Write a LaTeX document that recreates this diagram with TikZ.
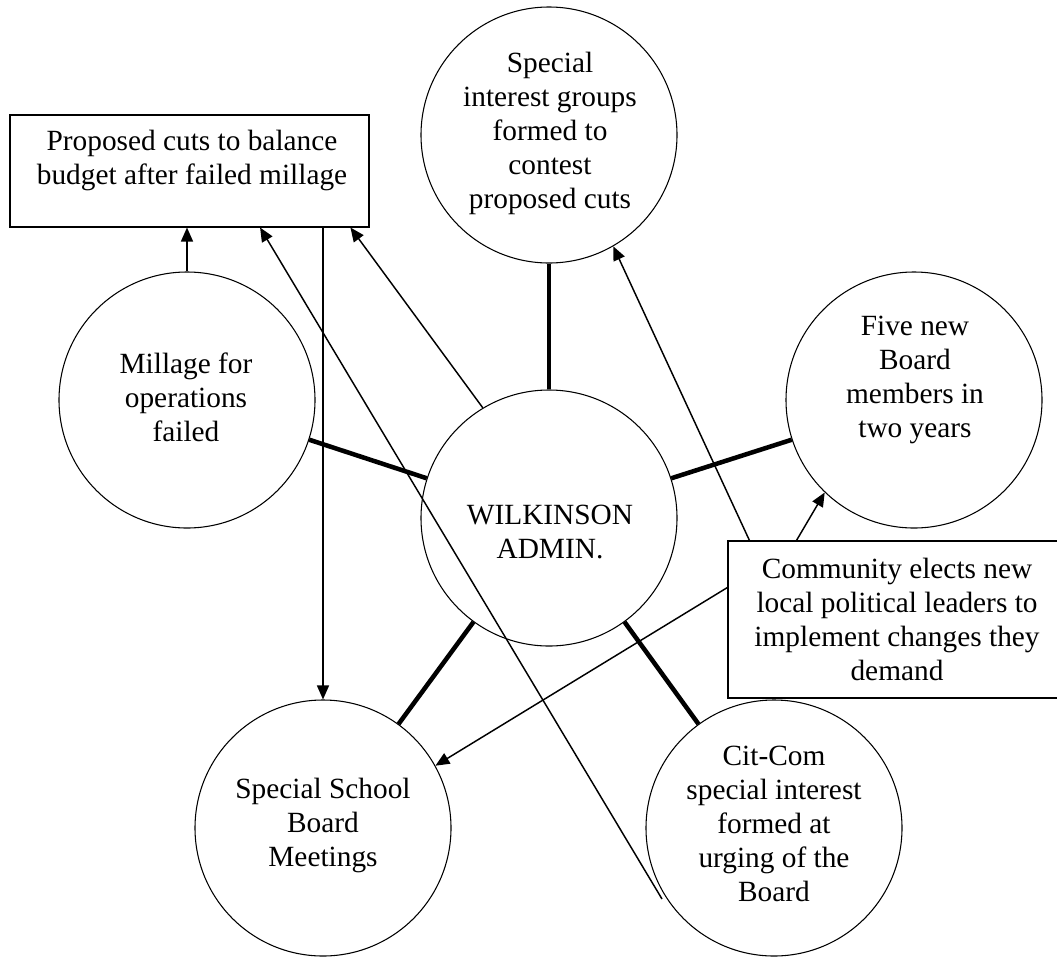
\documentclass[tikz,border=0pt]{standalone}
\usepackage{fontspec}
\setmainfont{Liberation Serif}
\usetikzlibrary{calc,arrows.meta}
\begin{document}
\begin{tikzpicture}[x=0.75pt,y=-0.75pt,
  bubble/.style={circle,draw,line width=0.8pt,minimum size=192pt,inner sep=0pt},
  panel/.style={draw,line width=0.8pt,inner sep=0pt},
  caption/.style={align=center,inner sep=0pt,font=\fontsize{22}{25.5}\selectfont},
  tie/.style={line width=3.4pt},
  link/.style={line width=1.1pt,-{Triangle[length=10.5pt,width=9pt]}}]
\fill[white] (0,0) rectangle (1057,957);
\useasboundingbox (0,0) rectangle (1057,957);

% circles
\node[bubble] (top)   at (549,135) {};
\node[bubble] (mill)  at (187,400) {};
\node[bubble] (five)  at (914,400) {};
\node[bubble] (admin) at (549,518) {};
\node[bubble] (ssbm)  at (323,828) {};
\node[bubble] (cit)   at (774,828) {};

% boxes
\node[panel,minimum width=269.25pt,minimum height=84pt] (cuts) at (189.5,171) {};
\node[panel,minimum width=250.5pt,minimum height=117.75pt] (elect) at (895,619.5) {};

% texts
\node[caption] (topT)   at (550,133) {Special\\interest groups\\formed to\\contest\\proposed cuts};
\node[caption] (cutsT)  at (192,160) {Proposed cuts to balance\\budget after failed millage};
\node[caption] (millT)  at (186,397) {Millage for\\operations\\failed};
\node[caption] (fiveT)  at (915,380) {Five new\\Board\\members in\\two years};
\node[caption] (adminT) at (550,532) {WILKINSON\\ADMIN.};
\node[caption] (electT) at (897,619) {Community elects new\\local political leaders to\\implement changes they\\demand};
\node[caption] (ssbmT)  at (323,825) {Special School\\Board\\Meetings};
\node[caption] (citT)   at (774,824) {Cit-Com\\special interest\\formed at\\urging of the\\Board};

% thick spokes
\draw[tie] (top.south) -- (admin.north);
\draw[tie] (mill.-18) -- (admin.162);
\draw[tie] (five.198) -- (admin.18);
\draw[tie] (ssbm.54) -- (admin.-126);
\draw[tie] (cit.126) -- (admin.-54);

% arrows
\draw[link] (mill.north) -- (mill.north |- cuts.south);
\draw[link] (admin.121) -- ($(cuts.south west)!0.947!(cuts.south east)$);
\coordinate (tail) at (662,899);
\draw[link] (tail) -- ($(cuts.south west)!0.696!(cuts.south east)$);
\draw[link] (ssbm.north |- cuts.south) -- (ssbm.north);
\draw[link] ($(elect.north west)+(22,0)$) -- (top.-60);
\draw[link] ($(elect.north west)+(69,0)$) -- (five.-134);
\draw[link] ($(elect.north west)+(0,47)$) -- (ssbm.29.5);
\end{tikzpicture}
\end{document}
